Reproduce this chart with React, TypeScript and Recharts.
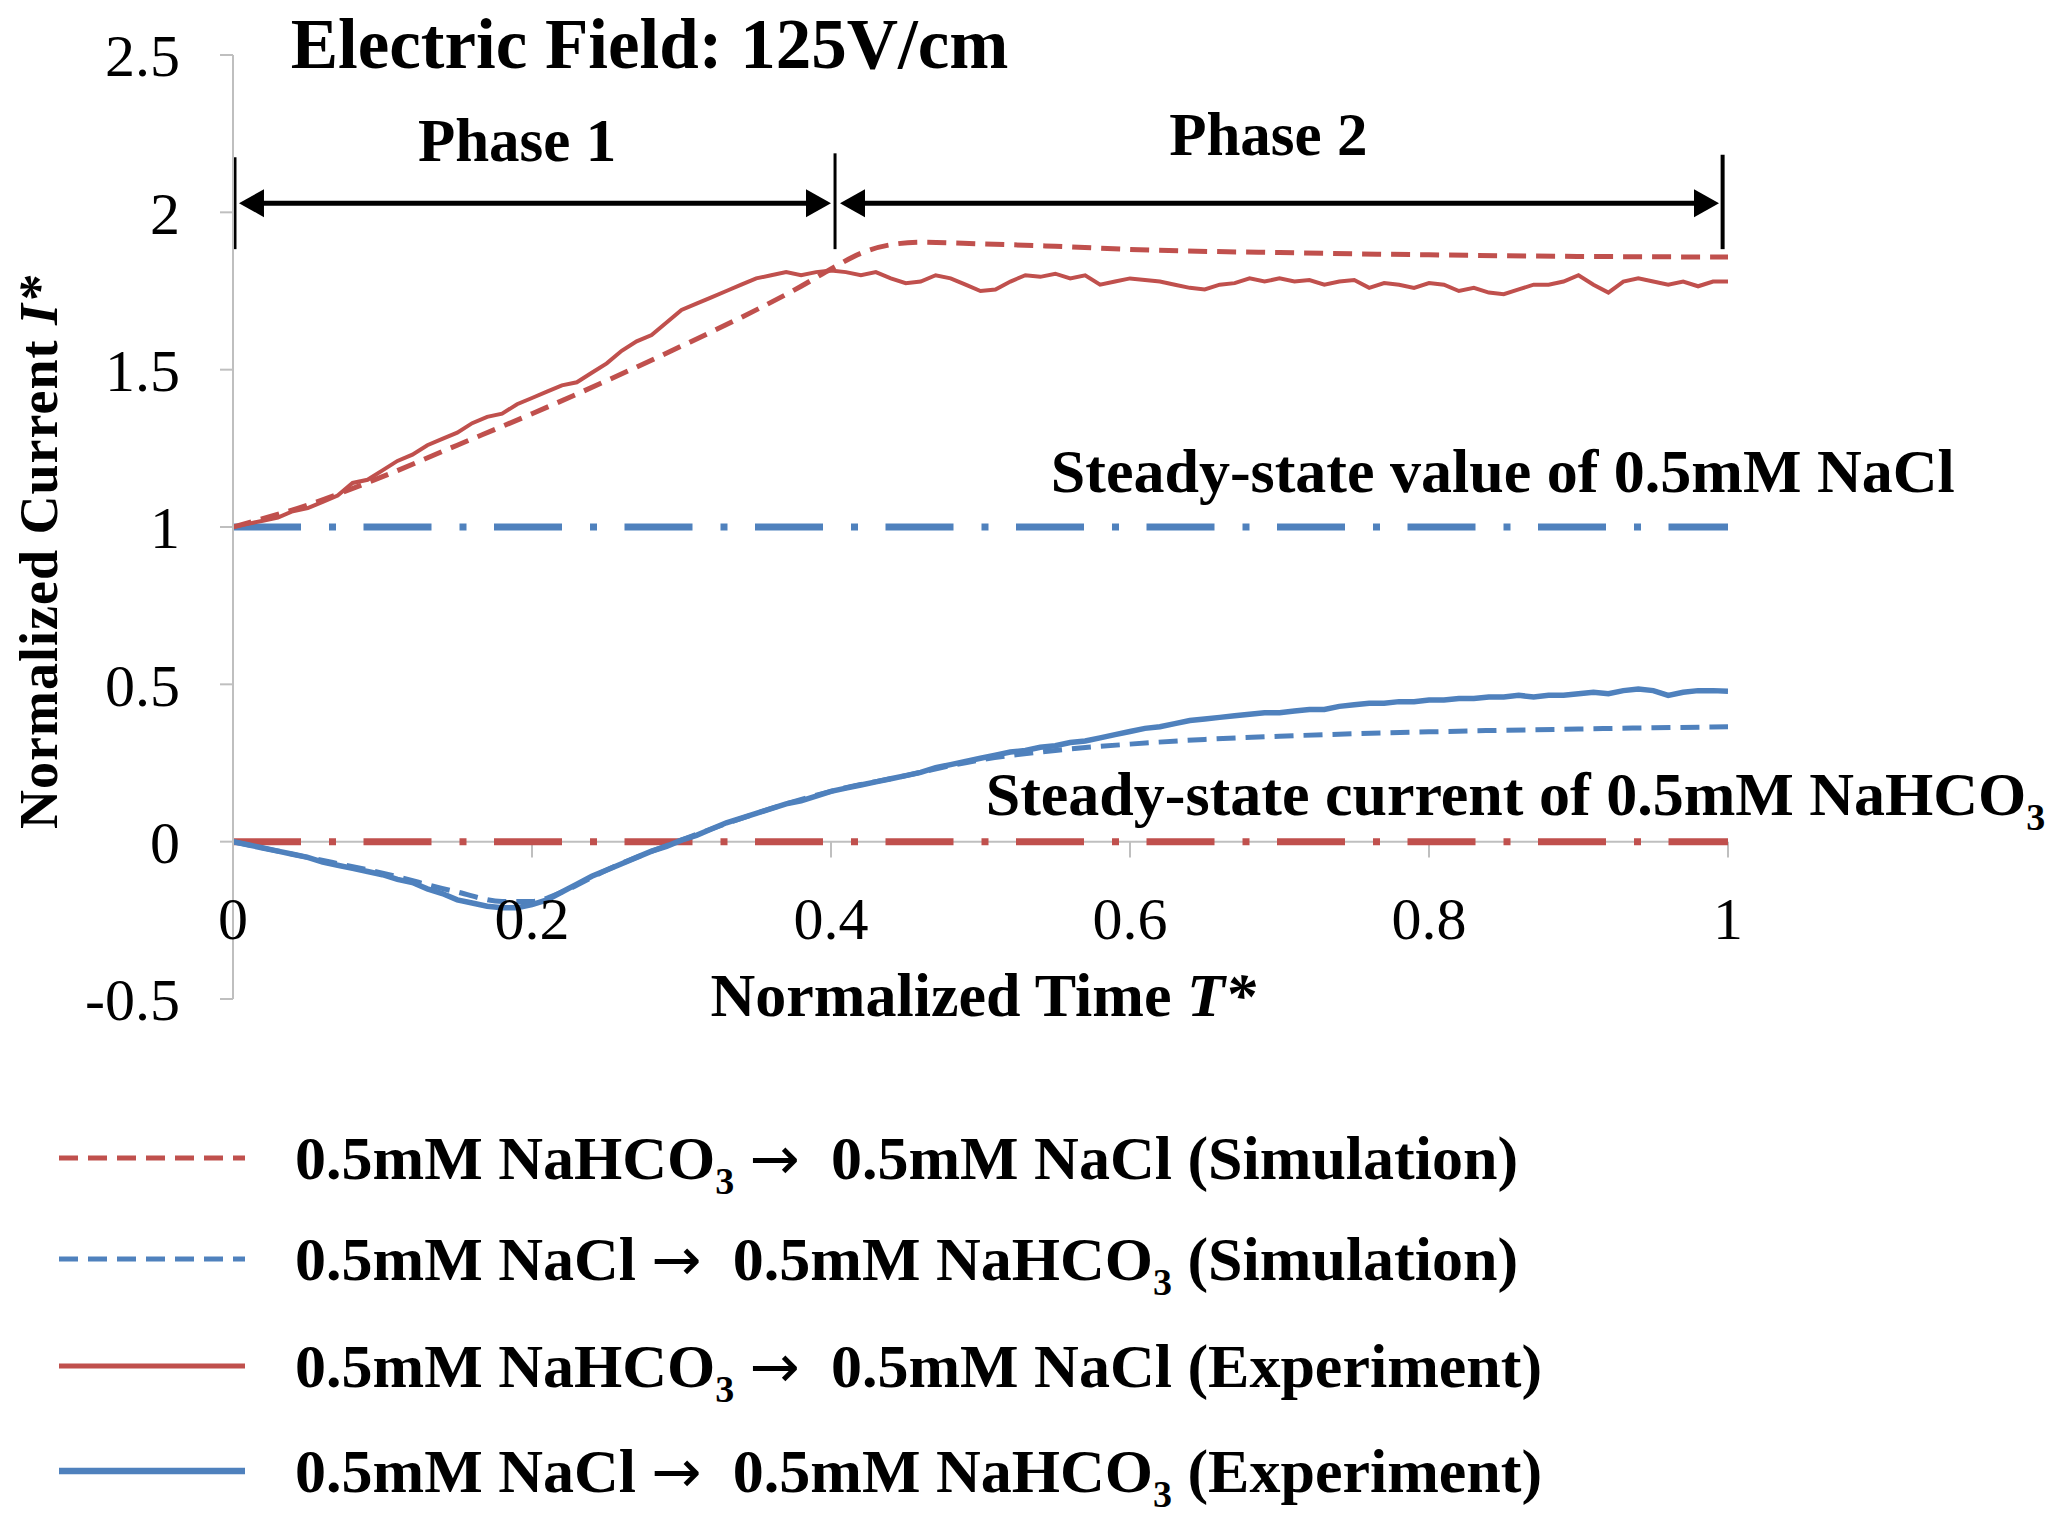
import React from 'react';
import { LineChart, Line, XAxis, YAxis, ReferenceLine, ReferenceDot, Legend } from 'recharts';

const RED = '#C0504D';
const BLUE = '#4F81BD';
const AXIS_GRAY = '#BFBFBF';
const FONT = '"Liberation Serif", "Times New Roman", serif';

// ---------- data ----------
const expTime = [
  0, 0.01, 0.02, 0.03, 0.04, 0.05, 0.06, 0.07, 0.08, 0.09,
  0.1, 0.11, 0.12, 0.13, 0.14, 0.15, 0.16, 0.17, 0.18, 0.19,
  0.2, 0.21, 0.22, 0.23, 0.24, 0.25, 0.26, 0.27, 0.28, 0.29,
  0.3, 0.31, 0.32, 0.33, 0.34, 0.35, 0.36, 0.37, 0.38, 0.39,
  0.4, 0.41, 0.42, 0.43, 0.44, 0.45, 0.46, 0.47, 0.48, 0.49,
  0.5, 0.51, 0.52, 0.53, 0.54, 0.55, 0.56, 0.57, 0.58, 0.59,
  0.6, 0.61, 0.62, 0.63, 0.64, 0.65, 0.66, 0.67, 0.68, 0.69,
  0.7, 0.71, 0.72, 0.73, 0.74, 0.75, 0.76, 0.77, 0.78, 0.79,
  0.8, 0.81, 0.82, 0.83, 0.84, 0.85, 0.86, 0.87, 0.88, 0.89,
  0.9, 0.91, 0.92, 0.93, 0.94, 0.95, 0.96, 0.97, 0.98, 0.99, 1.0,
];

const redExp = [
  1.0, 1.01, 1.02, 1.03, 1.05, 1.06, 1.08, 1.1, 1.14, 1.15,
  1.18, 1.21, 1.23, 1.26, 1.28, 1.3, 1.33, 1.35, 1.36, 1.39,
  1.41, 1.43, 1.45, 1.46, 1.49, 1.52, 1.56, 1.59, 1.61, 1.65,
  1.69, 1.71, 1.73, 1.75, 1.77, 1.79, 1.8, 1.81, 1.8, 1.81,
  1.815, 1.81, 1.8, 1.81, 1.79, 1.775, 1.78, 1.8, 1.79, 1.77,
  1.75, 1.755, 1.78, 1.8, 1.795, 1.805, 1.79, 1.8, 1.77, 1.78,
  1.79, 1.785, 1.78, 1.77, 1.76, 1.755, 1.77, 1.775, 1.79, 1.78,
  1.79, 1.78, 1.785, 1.77, 1.78, 1.785, 1.76, 1.775, 1.77, 1.76,
  1.775, 1.77, 1.75, 1.76, 1.745, 1.74, 1.755, 1.77, 1.77, 1.78,
  1.8, 1.77, 1.745, 1.78, 1.79, 1.78, 1.77, 1.78, 1.765, 1.78, 1.78,
];

const blueExp = [
  0, -0.01, -0.02, -0.03, -0.04, -0.05, -0.065, -0.075, -0.085, -0.095,
  -0.105, -0.12, -0.13, -0.15, -0.165, -0.185, -0.195, -0.205, -0.21, -0.21,
  -0.2, -0.185, -0.16, -0.135, -0.11, -0.09, -0.07, -0.05, -0.03, -0.015,
  0.005, 0.02, 0.04, 0.06, 0.075, 0.09, 0.105, 0.12, 0.13, 0.145,
  0.16, 0.17, 0.18, 0.19, 0.2, 0.21, 0.22, 0.235, 0.245, 0.255,
  0.265, 0.275, 0.285, 0.29, 0.3, 0.305, 0.315, 0.32, 0.33, 0.34,
  0.35, 0.36, 0.365, 0.375, 0.385, 0.39, 0.395, 0.4, 0.405, 0.41,
  0.41, 0.415, 0.42, 0.42, 0.43, 0.435, 0.44, 0.44, 0.445, 0.445,
  0.45, 0.45, 0.455, 0.455, 0.46, 0.46, 0.465, 0.46, 0.465, 0.465,
  0.47, 0.475, 0.47, 0.48, 0.485, 0.48, 0.465, 0.475, 0.48, 0.48, 0.478,
];

const redSimTime = [0, 0.05, 0.1, 0.15, 0.2, 0.25, 0.3, 0.35, 0.38, 0.4, 0.42, 0.44, 0.46, 0.5, 0.55, 0.6, 0.7, 0.8, 0.9, 1.0];
const redSim = [1.0, 1.07, 1.16, 1.26, 1.36, 1.465, 1.575, 1.69, 1.765, 1.82, 1.87, 1.897, 1.905, 1.9, 1.892, 1.882, 1.872, 1.865, 1.86, 1.858];

const blueSimTime = [0, 0.05, 0.1, 0.15, 0.18, 0.2, 0.22, 0.25, 0.3, 0.35, 0.4, 0.45, 0.5, 0.55, 0.6, 0.65, 0.7, 0.75, 0.8, 0.85, 0.9, 0.95, 1.0];
const blueSim = [0, -0.05, -0.1, -0.16, -0.19, -0.19, -0.16, -0.09, 0.005, 0.09, 0.16, 0.21, 0.26, 0.29, 0.31, 0.325, 0.335, 0.343, 0.349, 0.354, 0.358, 0.362, 0.365];

const yTicks = [-0.5, 0, 0.5, 1, 1.5, 2, 2.5];
const xTicks = [0, 0.2, 0.4, 0.6, 0.8, 1];
const xTickLabels = ['0', '0.2', '0.4', '0.6', '0.8', '1'];

const seriesLabels = [
  '0.5mM NaHCO3 \u2192  0.5mM NaCl (Simulation)',
  '0.5mM NaCl \u2192  0.5mM NaHCO3 (Simulation)',
  '0.5mM NaHCO3 \u2192  0.5mM NaCl (Experiment)',
  '0.5mM NaCl \u2192  0.5mM NaHCO3 (Experiment)',
];

// ---------- styles ----------
const SIM_DASH = '19 10';
const DASH_DOT = '68 28 7 27.5';
const legendStyles = [
  { color: RED, dash: SIM_DASH, width: 5 },
  { color: BLUE, dash: SIM_DASH, width: 5 },
  { color: RED, dash: undefined, width: 5 },
  { color: BLUE, dash: undefined, width: 6.5 },
];
const legendRowY = [68, 169, 276, 381];

const toPoints = (ts: number[], vs: number[]) => ts.map((t, i) => ({ t, v: vs[i] }));
const redExpData = toPoints(expTime, redExp);
const blueExpData = toPoints(expTime, blueExp);
const redSimData = toPoints(redSimTime, redSim);
const blueSimData = toPoints(blueSimTime, blueSim);

const withArrow = (s: string, key: string) => {
  const bits = s.split('\u2192');
  if (bits.length === 1) return s;
  return (
    <React.Fragment key={key}>
      {bits[0]}
      <tspan fontFamily='"DejaVu Sans", sans-serif' fontWeight="normal" fontSize={60}>{'\u2192'}</tspan>
      {bits[1]}
    </React.Fragment>
  );
};

const chem = (label: string, size: number) => {
  const parts = label.split('NaHCO3');
  if (parts.length === 1) return withArrow(label, 'a');
  const sub = Math.round(size * 0.62);
  const shift = Math.round(size * 0.24);
  return (
    <>
      {withArrow(parts[0], 'p0')}NaHCO
      <tspan dy={shift} fontSize={sub}>3</tspan>
      <tspan dy={-shift}>{withArrow(parts[1], 'p1')}</tspan>
    </>
  );
};

const textShape = (content: React.ReactNode, opts: { anchor?: string; size: number; weight?: string }) =>
  (p: any) => (
    <text
      x={p.cx}
      y={p.cy}
      textAnchor={opts.anchor || 'start'}
      fontSize={opts.size}
      fontWeight={opts.weight || 'bold'}
      fontFamily={FONT}
      fill="#000"
      style={{ whiteSpace: 'pre' }}
    >
      {content}
    </text>
  );

const leftHead = (p: any) => (
  <polygon points={`${p.cx},${p.cy} ${p.cx + 25},${p.cy - 14} ${p.cx + 25},${p.cy + 14}`} fill="#000" />
);
const rightHead = (p: any) => (
  <polygon points={`${p.cx},${p.cy} ${p.cx - 25},${p.cy - 14} ${p.cx - 25},${p.cy + 14}`} fill="#000" />
);

const LegendContent = () => (
  <svg width={1700} height={430} style={{ display: 'block', overflow: 'visible' }}>
    {seriesLabels.map((label, i) => {
      const s = legendStyles[i];
      const cy = legendRowY[i];
      return (
        <g key={i}>
          <line x1={59} x2={245} y1={cy} y2={cy} stroke={s.color} strokeWidth={s.width} strokeDasharray={s.dash} />
          <text x={295} y={cy + 21} fontSize={62} fontWeight="bold" fontFamily={FONT} fill="#000" style={{ whiteSpace: 'pre' }}>
            {chem(label, 62)}
          </text>
        </g>
      );
    })}
  </svg>
);

const YLabel = (props: any) => {
  const vb = props.viewBox || { x: 0, y: 55, width: 233, height: 944 };
  const cx = vb.x + 39;
  const cy = vb.y + vb.height / 2 + 25;
  return (
    <text
      x={cx}
      y={cy}
      transform={`rotate(-90 ${cx} ${cy})`}
      textAnchor="middle"
      dominantBaseline="central"
      fontSize={54}
      fontWeight="bold"
      fontFamily={FONT}
      fill="#000"
      letterSpacing={1}
    >
      Normalized Current <tspan fontStyle="italic">I*</tspan>
    </text>
  );
};

export default function App() {
  return (
    <div style={{ position: 'absolute', left: 0, top: 0, width: 2056, height: 1518, background: '#fff' }}>
      <LineChart width={2056} height={1518} margin={{ top: 55, right: 328, bottom: 519, left: 0 }}>
        <XAxis type="number" dataKey="t" domain={[0, 1]} ticks={xTicks} hide allowDataOverflow />
        <YAxis
          type="number"
          dataKey="v"
          domain={[-0.5, 2.5]}
          ticks={yTicks}
          interval={0}
          width={233}
          allowDataOverflow
          axisLine={{ stroke: AXIS_GRAY, strokeWidth: 2 }}
          tickLine={{ stroke: AXIS_GRAY, strokeWidth: 2 }}
          tickSize={13}
          tickMargin={40}
          tick={{ fontSize: 60, fill: '#000', fontFamily: FONT }}
          label={YLabel}
        />

        {/* x axis drawn at y = 0 */}
        <ReferenceLine y={0} stroke={AXIS_GRAY} strokeWidth={2} />
        {xTicks.map((t) => (
          <ReferenceLine
            key={`xt${t}`}
            segment={[{ x: t, y: 0 }, { x: t, y: -0.05 }]}
            stroke={AXIS_GRAY}
            strokeWidth={2}
            ifOverflow="visible"
          />
        ))}
        {xTicks.map((t, i) => (
          <ReferenceDot
            key={`xl${t}`}
            x={t}
            y={-0.308}
            ifOverflow="visible"
            shape={textShape(xTickLabels[i], { anchor: 'middle', size: 60, weight: 'normal' })}
          />
        ))}
        <ReferenceDot
          x={0.5018}
          y={-0.554}
          ifOverflow="visible"
          shape={textShape(<>Normalized Time <tspan fontStyle="italic">T*</tspan></>, { anchor: 'middle', size: 62 })}
        />

        {/* steady-state reference levels */}
        <ReferenceLine
          segment={[{ x: 0, y: 1 }, { x: 1, y: 1 }]}
          stroke={BLUE}
          strokeWidth={7}
          strokeDasharray={DASH_DOT}
          ifOverflow="visible"
        />
        <ReferenceLine
          segment={[{ x: 0, y: 0 }, { x: 1, y: 0 }]}
          stroke={RED}
          strokeWidth={7}
          strokeDasharray={DASH_DOT}
          ifOverflow="visible"
        />

        {/* phase markers */}
        <ReferenceLine segment={[{ x: 0.001, y: 2.175 }, { x: 0.001, y: 1.883 }]} stroke="#000" strokeWidth={4} ifOverflow="visible" />
        <ReferenceLine segment={[{ x: 0.4027, y: 2.1875 }, { x: 0.4027, y: 1.883 }]} stroke="#000" strokeWidth={3} ifOverflow="visible" />
        <ReferenceLine segment={[{ x: 0.9964, y: 2.183 }, { x: 0.9964, y: 1.883 }]} stroke="#000" strokeWidth={4} ifOverflow="visible" />
        <ReferenceLine segment={[{ x: 0.01, y: 2.029 }, { x: 0.39, y: 2.029 }]} stroke="#000" strokeWidth={5} ifOverflow="visible" />
        <ReferenceLine segment={[{ x: 0.415, y: 2.029 }, { x: 0.985, y: 2.029 }]} stroke="#000" strokeWidth={5} ifOverflow="visible" />
        <ReferenceDot x={0.004} y={2.029} ifOverflow="visible" shape={leftHead} />
        <ReferenceDot x={0.4} y={2.029} ifOverflow="visible" shape={rightHead} />
        <ReferenceDot x={0.406} y={2.029} ifOverflow="visible" shape={leftHead} />
        <ReferenceDot x={0.994} y={2.029} ifOverflow="visible" shape={rightHead} />

        {/* annotations */}
        <ReferenceDot x={0.0386} y={2.458} ifOverflow="visible" shape={textShape('Electric Field: 125V/cm', { size: 71 })} />
        <ReferenceDot x={0.19} y={2.1625} ifOverflow="visible" shape={textShape('Phase 1', { anchor: 'middle', size: 61 })} />
        <ReferenceDot x={0.6925} y={2.183} ifOverflow="visible" shape={textShape('Phase 2', { anchor: 'middle', size: 61 })} />
        <ReferenceDot x={0.547} y={1.1125} ifOverflow="visible" shape={textShape('Steady-state value of 0.5mM NaCl', { size: 62 })} />
        <ReferenceDot
          x={0.5035}
          y={0.0833}
          ifOverflow="visible"
          shape={textShape(chem('Steady-state current of 0.5mM NaHCO3', 62), { size: 62 })}
        />

        {/* series */}
        <Line data={redSimData} dataKey="v" name={seriesLabels[0]} type="monotone" stroke={RED} strokeWidth={5} strokeDasharray={SIM_DASH} dot={false} activeDot={false} isAnimationActive={false} />
        <Line data={blueSimData} dataKey="v" name={seriesLabels[1]} type="monotone" stroke={BLUE} strokeWidth={5} strokeDasharray={SIM_DASH} dot={false} activeDot={false} isAnimationActive={false} />
        <Line data={redExpData} dataKey="v" name={seriesLabels[2]} type="linear" stroke={RED} strokeWidth={4} dot={false} activeDot={false} isAnimationActive={false} />
        <Line data={blueExpData} dataKey="v" name={seriesLabels[3]} type="linear" stroke={BLUE} strokeWidth={5.5} dot={false} activeDot={false} isAnimationActive={false} />

        <Legend
          layout="vertical"
          align="center"
          verticalAlign="middle"
          wrapperStyle={{ left: 0, top: 1090, width: 1700, height: 430 }}
          content={LegendContent}
        />
      </LineChart>
    </div>
  );
}
